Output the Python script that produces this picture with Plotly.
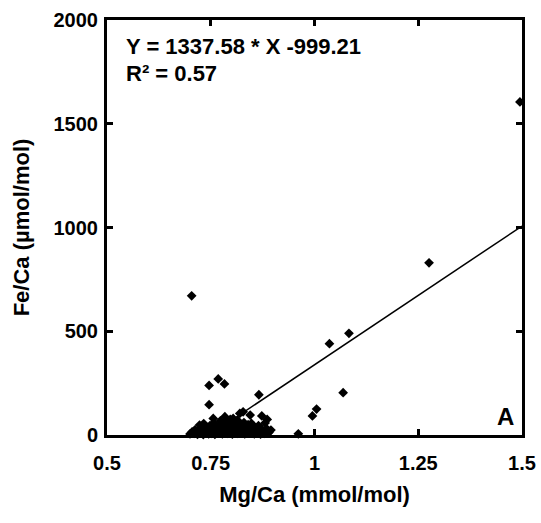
import plotly.graph_objects as go

# Outlying points (Mg/Ca mmol/mol, Fe/Ca umol/mol)
mgca_outer = [1.495, 1.276, 1.083, 1.036, 1.069, 1.005, 0.995, 0.961, 0.704, 0.746,
              0.768, 0.783, 0.866, 0.746, 0.756, 0.820, 0.873, 0.886, 0.895, 0.871,
              0.845, 0.848, 0.804, 0.788, 0.780, 0.784, 0.828, 0.881]
feca_outer = [1605, 830, 490, 440, 204, 125, 92, 6, 671, 239,
              270, 246, 194, 146, 80, 104, 92, 75, 24, 32,
              96, 56, 80, 72, 56, 88, 112, 58]

# Dense cluster near the x axis
mgca_cluster = [0.700, 0.705, 0.710, 0.712, 0.718, 0.720, 0.725, 0.728, 0.732, 0.735,
                0.738, 0.740, 0.743, 0.745, 0.748, 0.750, 0.752, 0.755, 0.758, 0.760,
                0.762, 0.765, 0.768, 0.770, 0.772, 0.775, 0.778, 0.780, 0.782, 0.785,
                0.788, 0.790, 0.792, 0.795, 0.798, 0.800, 0.802, 0.805, 0.808, 0.810,
                0.812, 0.815, 0.818, 0.820, 0.822, 0.825, 0.828, 0.830, 0.832, 0.835,
                0.838, 0.840, 0.842, 0.845, 0.848, 0.850, 0.852, 0.855, 0.858, 0.860,
                0.862, 0.865, 0.868, 0.870, 0.875, 0.880, 0.885, 0.890, 0.723, 0.733,
                0.757, 0.773, 0.797, 0.815]
feca_cluster = [5, 15, 8, 25, 3, 18, 30, 10, 2, 22,
                40, 12, 28, 5, 45, 18, 8, 35, 25, 3,
                15, 38, 26, 10, 48, 20, 5, 32, 14, 42,
                22, 8, 36, 16, 52, 28, 4, 40, 15, 22,
                55, 8, 34, 18, 44, 12, 28, 60, 5, 38,
                20, 50, 10, 30, 16, 42, 24, 6, 34, 14,
                22, 45, 10, 4, 18, 8, 30, 12, 48, 55,
                58, 68, 75, 70]

slope = 1337.58
intercept = -999.21
line_x = [-intercept / slope, 1.5]
line_y = [slope * v + intercept for v in line_x]

x_ticks = [0.5, 0.75, 1, 1.25, 1.5]
x_ticktext = ["0.5", "0.75", "1", "1.25", "1.5"]
y_ticks = [0, 500, 1000, 1500, 2000]

FONT = "Liberation Sans"

fig = go.Figure()
fig.add_trace(go.Scatter(x=line_x, y=line_y, mode="lines",
                         line=dict(color="black", width=1.5),
                         showlegend=False, hoverinfo="skip"))
fig.add_trace(go.Scatter(x=mgca_cluster + mgca_outer, y=feca_cluster + feca_outer,
                         mode="markers",
                         marker=dict(symbol="diamond", size=7.5, color="black"),
                         showlegend=False, cliponaxis=False))

axis_common = dict(showline=True, linecolor="black", linewidth=3, mirror="ticks",
                   ticks="inside", ticklen=6, tickwidth=2.5, tickcolor="black",
                   showgrid=False, zeroline=False, automargin=False,
                   tickfont=dict(family=FONT, size=20, color="black", weight="bold"))

fig.update_xaxes(range=[0.5, 1.5], tickvals=x_ticks, ticktext=x_ticktext,
                 ticklabelstandoff=8,
                 title=dict(text="Mg/Ca (mmol/mol)", standoff=14,
                            font=dict(family=FONT, size=22, color="black", weight="bold")),
                 **axis_common)
fig.update_yaxes(range=[0, 2000], tickvals=y_ticks,
                 ticklabelstandoff=2,
                 title=dict(text="Fe/Ca (µmol/mol)", standoff=18,
                            font=dict(family=FONT, size=22, color="black", weight="bold")),
                 **axis_common)

fig.add_annotation(x=0.04, y=0.935, xref="paper", yref="paper", xanchor="left", yanchor="middle",
                   text="Y = 1337.58 * X -999.21", showarrow=False,
                   font=dict(family=FONT, size=22, color="black", weight="bold"))
fig.add_annotation(x=0.04, y=0.872, xref="paper", yref="paper", xanchor="left", yanchor="middle",
                   text="R² = 0.57", showarrow=False,
                   font=dict(family=FONT, size=22, color="black", weight="bold"))
fig.add_annotation(x=0.985, y=0.045, xref="paper", yref="paper", xanchor="right", yanchor="middle",
                   text="A", showarrow=False,
                   font=dict(family=FONT, size=24, color="black", weight="bold"))

fig.update_layout(width=541, height=523,
                  margin=dict(l=107, r=19, t=20, b=88),
                  plot_bgcolor="white", paper_bgcolor="white")

fig.write_html("out.html")
